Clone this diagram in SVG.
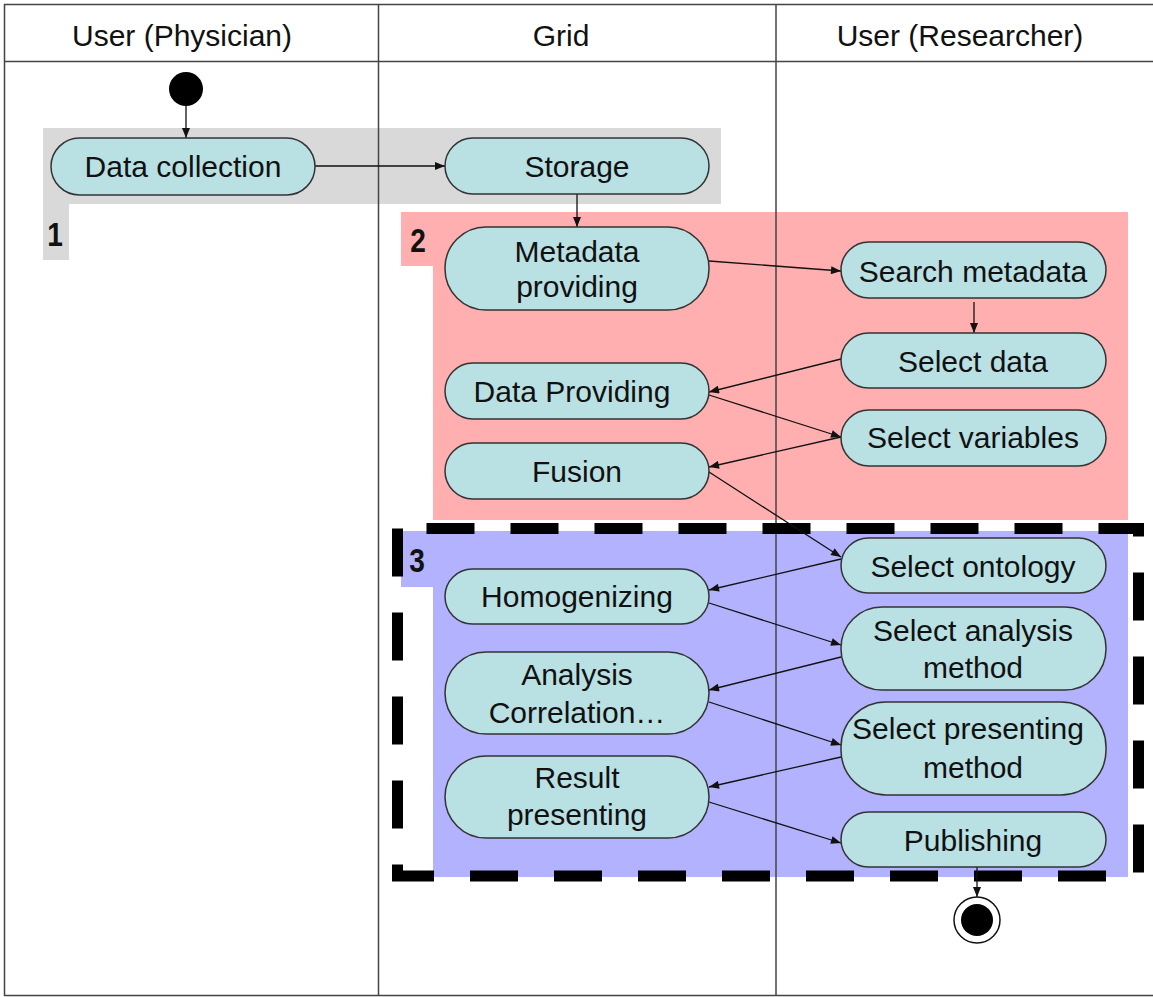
<svg xmlns="http://www.w3.org/2000/svg" width="1153" height="997" viewBox="0 0 1153 997">
<style>
.node rect{fill:#B9E0E3;stroke:#333;stroke-width:1.5}
.node text,.hdr{font-family:"Liberation Sans",Arial,sans-serif;font-size:30px;fill:#111;text-anchor:middle}
.lbl{font-family:"Liberation Sans",Arial,sans-serif;font-size:33px;font-weight:bold;fill:#111;text-anchor:middle}
.lane{stroke:#444;stroke-width:1.5;fill:none}
#connectors line{stroke:#111;stroke-width:1.3;fill:none}
.arr{marker-end:url(#ah)}
</style>
<defs>
<marker id="ah" viewBox="0 0 10 8" refX="10" refY="4" markerWidth="11" markerHeight="8" orient="auto" markerUnits="userSpaceOnUse"><path d="M0,0 L10,4 L0,8 z" fill="#111"/></marker>
</defs>
<rect width="1153" height="997" fill="#fff"/>
<g id="regions">
<path id="region1" d="M43,128 H721 V204 H69 V260 H43 Z" fill="#D9D9D9"/>
<path id="region2" d="M401,212 H1128 V520 H433 V266 H401 Z" fill="#FFAFAF"/>
<path id="region3" d="M401,531 H1128 V877 H433 V587 H401 Z" fill="#B2B2FF"/>
<text class="lbl" transform="translate(55,246) scale(0.85,1)">1</text>
<text class="lbl" transform="translate(418,252) scale(0.85,1)">2</text>
<text class="lbl" transform="translate(417,572) scale(0.85,1)">3</text>
</g>
<g id="lanes">
<line class="lane" x1="4" y1="4.5" x2="1153" y2="4.5"/>
<line class="lane" x1="4.5" y1="4" x2="4.5" y2="996"/>
<line class="lane" x1="4" y1="995.5" x2="1153" y2="995.5" stroke="#777"/>
<line class="lane" x1="4" y1="61.5" x2="1153" y2="61.5"/>
<line class="lane" x1="378.5" y1="4" x2="378.5" y2="996"/>
<line class="lane" x1="776" y1="4" x2="776" y2="996"/>
<text class="hdr" x="182" y="46">User (Physician)</text>
<text class="hdr" x="561" y="46">Grid</text>
<text class="hdr" x="960" y="46">User (Researcher)</text>
</g>
<path id="group3-border" d="M397.5,528.5 V876 H1138.5 V528.5 Z" fill="none" stroke="#000" stroke-width="11" stroke-dasharray="48 36"/>
<g id="start"><circle cx="186" cy="89" r="17" fill="#000"/></g>
<g id="end"><circle cx="977" cy="920" r="23" fill="#fff" stroke="#111" stroke-width="1.5"/><circle cx="977" cy="920" r="16" fill="#000"/></g>
<g id="connectors">
<line class="arr" x1="186" y1="106" x2="186" y2="138"/>
<line class="arr" x1="315" y1="166" x2="445" y2="166"/>
<line class="arr" x1="577" y1="194" x2="577" y2="227"/>
<line class="arr" x1="709" y1="261" x2="841" y2="271"/>
<line class="arr" x1="974" y1="302" x2="974" y2="333"/>
<line class="arr" x1="841" y1="359" x2="709" y2="392"/>
<line class="arr" x1="709" y1="395" x2="841" y2="437"/>
<line class="arr" x1="841" y1="437" x2="709" y2="467"/>
<line class="arr" x1="709" y1="472" x2="841" y2="557"/>
<line class="arr" x1="841" y1="559" x2="709" y2="590"/>
<line class="arr" x1="709" y1="603" x2="841" y2="645"/>
<line class="arr" x1="841" y1="657" x2="709" y2="690"/>
<line class="arr" x1="709" y1="702" x2="841" y2="745"/>
<line class="arr" x1="841" y1="757" x2="709" y2="787"/>
<line class="arr" x1="709" y1="802" x2="841" y2="843"/>
<line class="arr" x1="977" y1="867" x2="977" y2="897"/>
</g>
<g id="n-datacollection" class="node"><rect x="51" y="138" width="264" height="57" rx="28.5"/><text x="183" y="177">Data collection</text></g>
<g id="n-storage" class="node"><rect x="445" y="138" width="264" height="56" rx="28"/><text x="577" y="177">Storage</text></g>
<g id="n-metadata" class="node"><rect x="445" y="227" width="264" height="83" rx="41"/><text x="577" y="262">Metadata</text><text x="577" y="297">providing</text></g>
<g id="n-dataproviding" class="node"><rect x="445" y="363" width="264" height="56" rx="28"/><text x="572" y="402">Data Providing</text></g>
<g id="n-fusion" class="node"><rect x="445" y="443" width="264" height="56" rx="28"/><text x="577" y="482">Fusion</text></g>
<g id="n-homogenizing" class="node"><rect x="445" y="569" width="264" height="55" rx="27.5"/><text x="577" y="607">Homogenizing</text></g>
<g id="n-analysis" class="node"><rect x="445" y="652" width="264" height="82" rx="41"/><text x="577" y="685">Analysis</text><text x="577" y="723">Correlation…</text></g>
<g id="n-result" class="node"><rect x="445" y="756" width="264" height="82" rx="41"/><text x="577" y="788">Result</text><text x="577" y="825">presenting</text></g>
<g id="n-searchmetadata" class="node"><rect x="841" y="242" width="265" height="56" rx="28"/><text x="973" y="282">Search metadata</text></g>
<g id="n-selectdata" class="node"><rect x="841" y="333" width="265" height="55" rx="27.5"/><text x="973" y="372">Select data</text></g>
<g id="n-selectvariables" class="node"><rect x="841" y="410" width="265" height="56" rx="28"/><text x="973" y="448">Select variables</text></g>
<g id="n-selectontology" class="node"><rect x="841" y="538" width="265" height="55" rx="27.5"/><text x="973" y="577">Select ontology</text></g>
<g id="n-selectanalysis" class="node"><rect x="841" y="607" width="265" height="83" rx="41"/><text x="973" y="641">Select analysis</text><text x="973" y="678">method</text></g>
<g id="n-selectpresenting" class="node"><rect x="841" y="702" width="265" height="93" rx="45"/><text x="968" y="739">Select presenting</text><text x="973" y="778">method</text></g>
<g id="n-publishing" class="node"><rect x="841" y="812" width="265" height="55" rx="27.5"/><text x="973" y="851">Publishing</text></g>
</svg>
